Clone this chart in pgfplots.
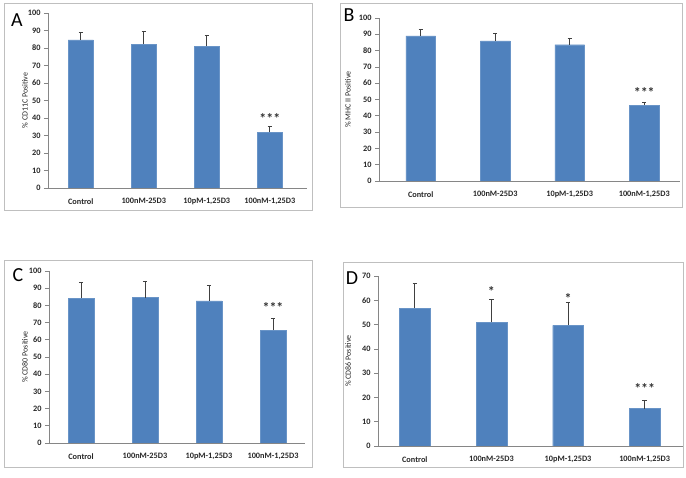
\documentclass[border=0pt]{standalone}
\usepackage{pgfplots}
\pgfplotsset{compat=1.18}
\usepackage{fontspec}
\setmainfont{Carlito}
\definecolor{barblue}{HTML}{4F81BD}
\definecolor{axgray}{HTML}{868686}
\definecolor{framegray}{HTML}{BFBFBF}
\definecolor{errgray}{HTML}{404040}
\tikzset{star/.style={font=\fontsize{14}{14}\selectfont\bfseries, text=black!80},
  letter/.style={font=\fontsize{20}{20}\selectfont}}
\pgfplotsset{
  panel/.style={
    scale only axis,
    anchor=south west,
    ybar, bar width=0.4,
    ymin=0,
    axis x line*=bottom, axis y line*=left,
    axis line style={draw=axgray, line width=0.8pt, -},
    xtick={0,1,2,3},
    xticklabels={Control,100nM-25D3,{10pM-1,25D3},{100nM-1,25D3}},
    major x tick style={draw=none},
    ytick distance=10,
    tick align=outside,
    major tick length=4bp,
    y tick style={draw=axgray, line width=0.6pt},
    tick label style={font=\fontsize{8.3}{9}\selectfont\bfseries, text=black!85},
    xticklabel style={yshift=-3bp},
    /pgf/number format/assume math mode=true,
    ylabel style={font=\fontsize{8}{9}\selectfont, text=black!85, anchor=center},
    error bars/y dir=plus, error bars/y explicit,
    error bars/error bar style={draw=errgray, line width=0.8pt},
    error bars/error mark options={draw=errgray, line width=0.8pt, mark size=2.2bp, rotate=90},
  },
  barplot/.style={fill=barblue, draw=barblue!85!white, line width=0.4pt},
}
\begin{document}
\begin{tikzpicture}
\path (0bp,0bp) rectangle (686bp,478bp);
% frames
\draw[framegray, line width=0.8pt] (4bp,268bp) rectangle (312bp,475bp);
\draw[framegray, line width=0.8pt] (340bp,271bp) rectangle (682bp,475bp);
\draw[framegray, line width=0.8pt] (4bp,11bp) rectangle (312bp,218bp);
\draw[framegray, line width=0.8pt] (343bp,11bp) rectangle (683bp,216bp);
% panel letters
\node[letter] at (17bp,458bp) {A};
\node[letter] at (349bp,463bp) {B};
\node[letter] at (18bp,203bp) {C};
\node[letter] at (352bp,200bp) {D};

% Panel A
\begin{axis}[panel, at={(48bp,290bp)}, width=259bp, height=175bp,
  xmin=-0.52, xmax=3.59, ymax=100,
  ylabel={\% CD11C Positive},
  ylabel style={at={(axis description cs:-0.089,0.5)}}]
\addplot[barplot] coordinates {(0,84.6) +- (0,4.1) (1,82.2) +- (0,7.1) (2,81.1) +- (0,6.3) (3,31.8) +- (0,3.2)};
\node[star] at (axis cs:3,39.5) {***};
\end{axis}

% Panel B
\begin{axis}[panel, at={(379bp,297bp)}, width=301bp, height=163bp,
  xmin=-0.56, xmax=3.48, ymax=100,
  ylabel={\% MHC II Positive},
  ylabel style={at={(axis description cs:-0.103,0.5)}}]
\addplot[barplot] coordinates {(0,89.1) +- (0,4.1) (1,86.0) +- (0,4.5) (2,83.6) +- (0,3.8) (3,46.4) +- (0,1.6)};
\node[star] at (axis cs:3,54.5) {***};
\end{axis}

% Panel C
\begin{axis}[panel, at={(49bp,35bp)}, width=256bp, height=172bp,
  xmin=-0.5, xmax=3.5, ymax=100,
  ylabel={\% CD80 Positive},
  ylabel style={at={(axis description cs:-0.094,0.5)}}]
\addplot[barplot] coordinates {(0,84.1) +- (0,9.1) (1,84.5) +- (0,9.7) (2,82.7) +- (0,8.8) (3,65.6) +- (0,6.9)};
\node[star] at (axis cs:3,79) {***};
\end{axis}

% Panel D
\begin{axis}[panel, at={(378bp,32bp)}, width=305bp, height=170bp,
  xmin=-0.48, xmax=3.5, ymax=70,
  ylabel={\% CD86 Positive},
  ylabel style={at={(axis description cs:-0.098,0.5)}}]
\addplot[barplot] coordinates {(0,56.8) +- (0,10.0) (1,51.0) +- (0,9.4) (2,49.7) +- (0,9.3) (3,15.4) +- (0,3.4)};
\node[star] at (axis cs:1,63.5) {*};
\node[star] at (axis cs:2,60.8) {*};
\node[star] at (axis cs:3,23.5) {***};
\end{axis}
\end{tikzpicture}
\end{document}
